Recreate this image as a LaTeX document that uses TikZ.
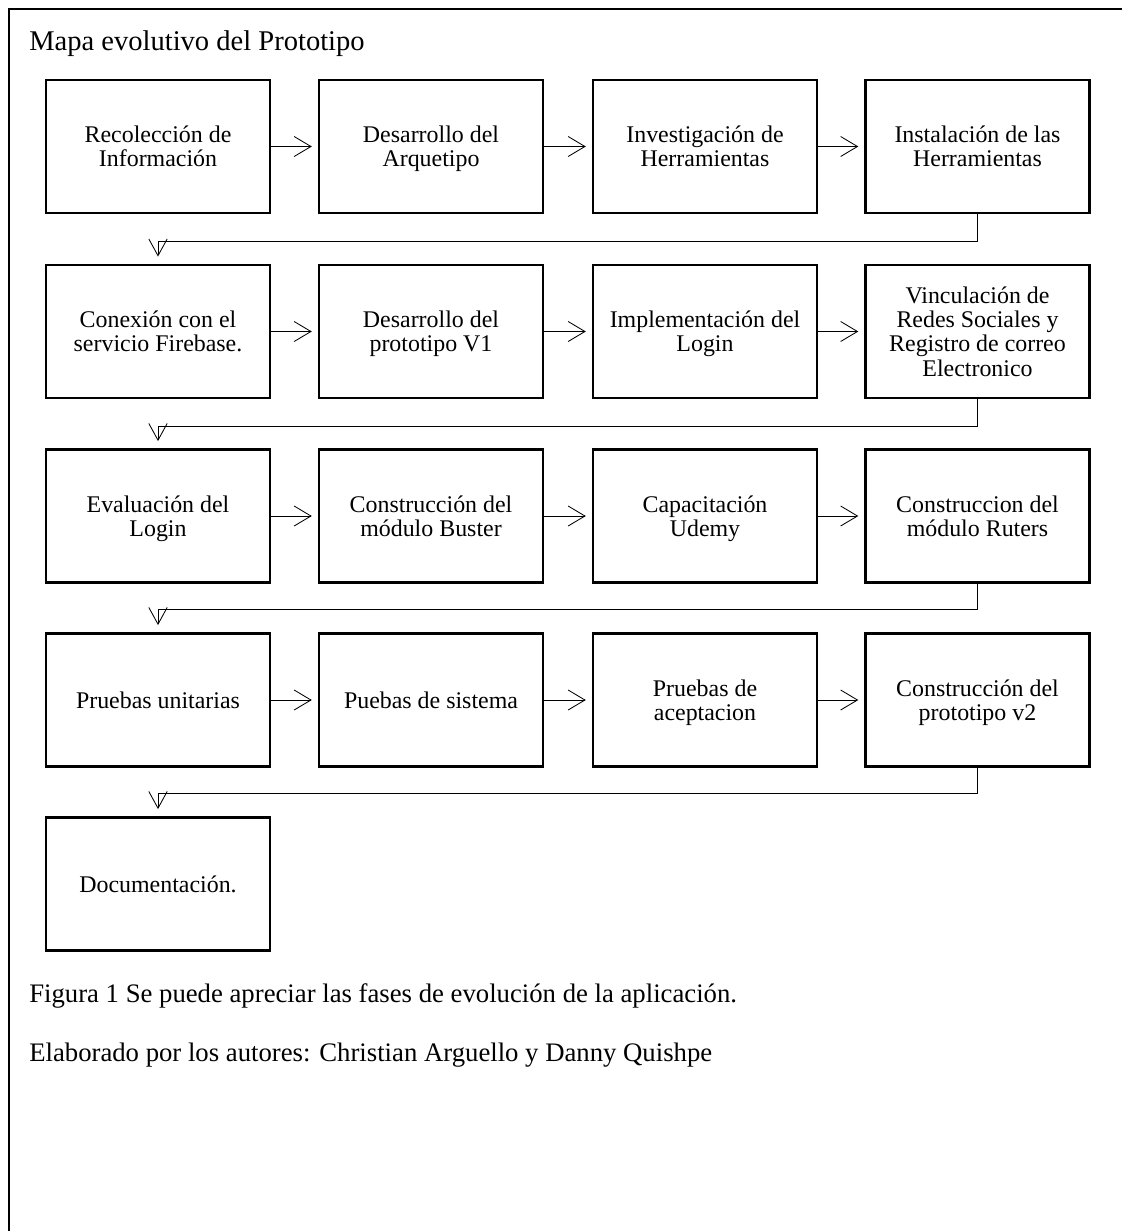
\documentclass[tikz,border=0pt]{standalone}
\usepackage{fontspec}
\setmainfont{Liberation Serif}
\usetikzlibrary{arrows.meta,positioning}

\begin{document}
\begin{tikzpicture}[
    x=0.025cm, y=-0.025cm,
    fase/.style={draw, line width=1.7pt, minimum width=5.6cm, minimum height=3.325cm, align=center,
        font=\fontsize{17}{17.2}\selectfont,
        execute at begin node=\rule{0pt}{12pt}, text depth=-1.2pt},
    sigue/.style={line width=0.6pt, -{Straight Barb[length=0.42cm, width=0.5cm]}, shorten >=0.15cm},
    baja/.style={line width=0.6pt, -{Straight Barb[length=0.42cm, width=0.46cm]}, shorten >=0.18cm},
]
    \useasboundingbox (0,0) rectangle (1122,1231);

    % Frame
    \draw[line width=1pt] (1122,9) -- (9,9) -- (9,1231);

    % Title
    \node[anchor=base west, inner sep=0pt, font=\fontsize{20.3}{24}\selectfont] (titulo) at (29,50) {Mapa evolutivo del Prototipo};

    % Row 1
    \node[fase] (recoleccion) at (158,146.5) {Recolección de\\Información};
    \node[fase] (arquetipo) at (431,146.5) {Desarrollo del\\Arquetipo};
    \node[fase] (investigacion) at (705,146.5) {Investigación de\\Herramientas};
    \node[fase] (instalacion) at (977.5,146.5) {Instalación de las\\Herramientas};

    % Row 2
    \node[fase] (conexion) at (158,331.5) {Conexión con el\\servicio Firebase.};
    \node[fase] (prototipo) at (431,331.5) {Desarrollo del\\prototipo V1};
    \node[fase] (login) at (705,331.5) {Implementación del\\Login};
    \node[fase] (vinculacion) at (977.5,331.5) {Vinculación de\\Redes Sociales y\\Registro de correo\\Electronico};

    % Row 3
    \node[fase] (evaluacion) at (158,516) {Evaluación del\\Login};
    \node[fase] (buster) at (431,516) {Construcción del\\módulo Buster};
    \node[fase] (udemy) at (705,516) {Capacitación\\Udemy};
    \node[fase] (ruters) at (977.5,516) {Construccion del\\módulo Ruters};

    % Row 4
    \node[fase] (unitarias) at (158,700) {Pruebas unitarias};
    \node[fase] (sistema) at (431,700) {Puebas de sistema};
    \node[fase] (aceptacion) at (705,700) {Pruebas de\\aceptacion};
    \node[fase] (version2) at (977.5,700) {Construcción del\\prototipo v2};

    % Row 5
    \node[fase] (documentacion) at (158,884) {Documentación.};

    % Arrows along the rows
    \draw[sigue] (recoleccion) -- (arquetipo);
    \draw[sigue] (arquetipo) -- (investigacion);
    \draw[sigue] (investigacion) -- (instalacion);
    \draw[sigue] (conexion) -- (prototipo);
    \draw[sigue] (prototipo) -- (login);
    \draw[sigue] (login) -- (vinculacion);
    \draw[sigue] (evaluacion) -- (buster);
    \draw[sigue] (buster) -- (udemy);
    \draw[sigue] (udemy) -- (ruters);
    \draw[sigue] (unitarias) -- (sistema);
    \draw[sigue] (sistema) -- (aceptacion);
    \draw[sigue] (aceptacion) -- (version2);

    % Arrows to the next row
    \draw[baja] (instalacion.south) -- ++(0,27) -| (conexion.north);
    \draw[baja] (vinculacion.south) -- ++(0,27) -| (evaluacion.north);
    \draw[baja] (ruters.south) -- ++(0,26) -| (unitarias.north);
    \draw[baja] (version2.south) -- ++(0,26) -| (documentacion.north);

    % Caption
    \node[anchor=base west, inner sep=0pt, font=\fontsize{19}{22}\selectfont] (pie) at (29,1002) {Figura 1 Se puede apreciar las fases de evolución de la aplicación.};
    \node[anchor=base west, inner sep=0pt, font=\fontsize{19}{22}\selectfont] (autores) at (29,1061) {Elaborado por los autores: Christian Arguello y Danny Quishpe};
\end{tikzpicture}
\end{document}
